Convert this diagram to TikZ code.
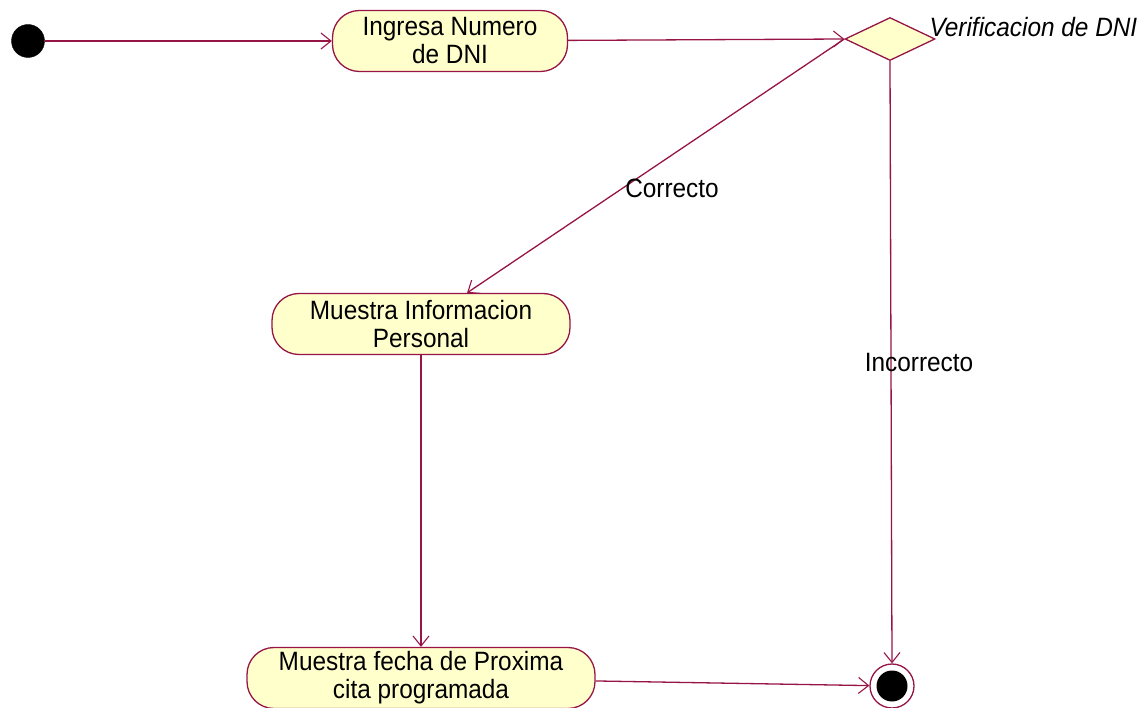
\documentclass[tikz,border=0pt]{standalone}
\usepackage{fontspec}
\setmainfont[FakeStretch=0.92]{Liberation Sans}
\usetikzlibrary{shapes.geometric,arrows.meta}
\definecolor{umlline}{RGB}{150,20,70}
\definecolor{umlfill}{RGB}{255,255,204}
\begin{document}
\begin{tikzpicture}[x=1pt,y=-1pt,
  every node/.style={font=\fontsize{26.5}{28}\selectfont},
  action/.style={draw=umlline,fill=umlfill,line width=1.3pt,rounded corners=27pt,
    align=center,inner sep=0pt,minimum height=61pt},
  flow/.style={draw=umlline,line width=1.3pt,-{Straight Barb[length=10pt,width=16pt,line width=1.1pt]}},
  lbl/.style={text=black}]
\useasboundingbox (0,0) rectangle (1141,708);
\node[circle,fill=black,draw=black,minimum size=33pt,inner sep=0pt] (start) at (28,41) {};
\node[action,minimum width=235pt] (ing) at (450,41) {Ingresa Numero\\de DNI};
\node[diamond,draw=umlline,fill=umlfill,line width=1.3pt,minimum width=90pt,minimum height=43pt,inner sep=0pt] (dia) at (890,39) {};
\node[anchor=west,font=\fontsize{26.5}{28}\selectfont\itshape] (dlbl) at (926,27) {Verificacion de DNI};
\node[action,minimum width=298pt] (mi) at (421,324) {Muestra Informacion\\Personal};
\node[action,minimum width=348pt] (fe) at (421,678) {Muestra fecha de Proxima\\cita programada};
\node[circle,draw=umlline,fill=white,line width=1.3pt,minimum size=44pt,inner sep=0pt] (fin) at (892,686) {};
\node[circle,fill=black,minimum size=31pt,inner sep=0pt] (fininner) at (fin) {};
\draw[flow] (start) -- (ing);
\draw[flow] (ing) -- (dia.west);
\draw[flow] (dia.west) -- (mi);
\draw[flow] (dia.south) -- (fin.north);
\draw[flow] (mi) -- (fe);
\draw[flow] (fe) -- (fin);
\node[lbl] (corr) at (672,188) {Correcto};
\node[lbl] (inc) at (919,363) {Incorrecto};
\end{tikzpicture}
\end{document}
